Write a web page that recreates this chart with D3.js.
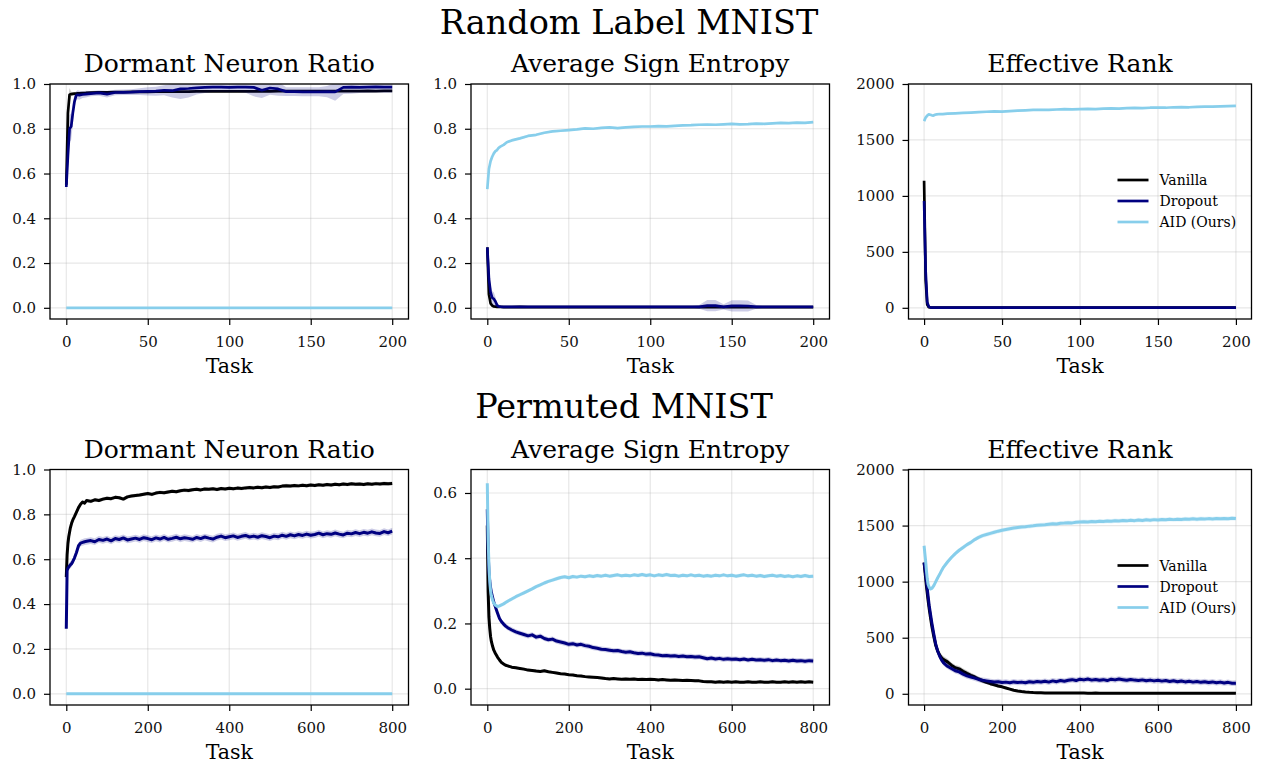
<!DOCTYPE html>
<html><head><meta charset="utf-8">
<script src="https://cdn.jsdelivr.net/npm/d3@7"></script>
<style>
html,body{margin:0;padding:0;background:#fff;}
svg{display:block;font-family:"DejaVu Serif",serif;}
</style></head><body>
<svg id="fig" width="1264" height="764"></svg>
<script>
// ---------------- Random Label MNIST (200 tasks) ----------------
const tasksRL = [
  0,1,2,3,4,5,6,7,8,10,
  12,15,20,25,30,35,40,45,50,55,
  60,65,70,75,80,85,90,95,100,105,
  110,115,120,125,130,135,140,145,150,155,
  160,165,170,175,180,185,190,195,200];

const rlDormantVanilla = [
  0.55,0.87,0.952,0.955,0.956,0.957,0.957,0.958,0.958,0.959,
  0.96,0.962,0.963,0.963,0.964,0.964,0.965,0.965,0.965,0.966,
  0.966,0.966,0.966,0.966,0.967,0.967,0.967,0.967,0.967,0.967,
  0.967,0.967,0.968,0.967,0.968,0.968,0.968,0.968,0.968,0.968,
  0.968,0.968,0.968,0.968,0.968,0.969,0.968,0.969,0.969];
const rlDormantVanillaSd = [
  0.02,0.06,0.03,0.01,0.008,0.006,0.005,0.005,0.005,0.005,
  0.004,0.004,0.004,0.004,0.004,0.004,0.004,0.004,0.004,0.004,
  0.004,0.004,0.004,0.004,0.004,0.004,0.004,0.004,0.004,0.004,
  0.004,0.004,0.004,0.004,0.004,0.004,0.004,0.004,0.004,0.004,
  0.004,0.004,0.004,0.004,0.004,0.004,0.004,0.004,0.004];
const rlDormantDropout = [
  0.54,0.68,0.80,0.81,0.87,0.92,0.948,0.952,0.95,0.953,
  0.955,0.957,0.96,0.955,0.962,0.963,0.964,0.966,0.967,0.968,
  0.972,0.97,0.978,0.98,0.983,0.985,0.986,0.986,0.985,0.986,
  0.986,0.985,0.972,0.982,0.978,0.966,0.966,0.965,0.965,0.965,
  0.966,0.965,0.985,0.986,0.985,0.986,0.987,0.986,0.986];
const rlDormantDropoutSd = [
  0.02,0.05,0.06,0.06,0.05,0.03,0.02,0.02,0.02,0.015,
  0.015,0.012,0.012,0.015,0.012,0.012,0.013,0.015,0.018,0.02,
  0.022,0.03,0.045,0.04,0.03,0.025,0.022,0.022,0.022,0.022,
  0.025,0.04,0.035,0.03,0.03,0.02,0.02,0.02,0.02,0.02,
  0.025,0.04,0.03,0.03,0.025,0.025,0.025,0.025,0.025];
const rlDormantAID = [
  0,0,0,0,0,0,0,0,0,0,
  0,0,0,0,0,0,0,0,0,0,
  0,0,0,0,0,0,0,0,0,0,
  0,0,0,0,0,0,0,0,0,0,
  0,0,0,0,0,0,0,0,0];
const rlDormantAIDSd = 0;

const rlEntropyVanilla = [
  0.27,0.06,0.02,0.01,0.006,0.005,0.004,0.004,0.004,0.003,
  0.003,0.003,0.004,0.003,0.003,0.003,0.003,0.003,0.003,0.003,
  0.003,0.003,0.003,0.003,0.003,0.003,0.003,0.003,0.003,0.003,
  0.003,0.003,0.003,0.003,0.003,0.003,0.003,0.003,0.003,0.003,
  0.003,0.003,0.003,0.003,0.003,0.003,0.003,0.003,0.003];
const rlEntropyVanillaSd = [
  0.01,0.02,0.012,0.006,0.004,0.003,0.002,0.002,0.002,0.002,
  0.002,0.002,0.002,0.002,0.002,0.002,0.002,0.002,0.002,0.002,
  0.002,0.002,0.002,0.002,0.002,0.002,0.002,0.002,0.002,0.002,
  0.002,0.002,0.002,0.002,0.002,0.002,0.002,0.002,0.002,0.002,
  0.002,0.002,0.002,0.002,0.002,0.002,0.002,0.002,0.002];
const rlEntropyDropout = [
  0.27,0.13,0.07,0.045,0.04,0.028,0.012,0.006,0.005,0.004,
  0.004,0.004,0.004,0.004,0.004,0.004,0.004,0.004,0.004,0.004,
  0.004,0.004,0.004,0.004,0.004,0.004,0.004,0.004,0.004,0.004,
  0.004,0.004,0.004,0.004,0.004,0.01,0.01,0.004,0.009,0.009,
  0.008,0.004,0.004,0.004,0.004,0.004,0.004,0.004,0.004];
const rlEntropyDropoutSd = [
  0.01,0.03,0.03,0.03,0.03,0.02,0.01,0.004,0.003,0.003,
  0.003,0.003,0.003,0.004,0.003,0.003,0.003,0.003,0.003,0.003,
  0.003,0.003,0.003,0.003,0.003,0.003,0.003,0.003,0.003,0.003,
  0.003,0.003,0.003,0.003,0.008,0.025,0.025,0.012,0.025,0.025,
  0.025,0.008,0.003,0.003,0.003,0.003,0.003,0.003,0.003];
const rlEntropyAID = [
  0.53,0.62,0.655,0.675,0.69,0.70,0.705,0.715,0.72,0.728,
  0.74,0.748,0.757,0.768,0.773,0.782,0.788,0.791,0.794,0.797,
  0.802,0.80,0.804,0.806,0.803,0.806,0.808,0.81,0.81,0.812,
  0.811,0.813,0.815,0.816,0.818,0.819,0.818,0.82,0.822,0.82,
  0.821,0.823,0.822,0.824,0.826,0.825,0.827,0.826,0.83];
const rlEntropyAIDSd = 0.005;

const rlRankVanilla = [
  1135,250,30,6,3,2,2,2,2,2,
  2,2,2,2,2,2,2,2,2,2,
  2,2,2,2,2,2,2,2,2,2,
  2,2,2,2,2,2,2,2,2,2,
  2,2,2,2,2,2,2,2,2];
const rlRankVanillaSd = [
  25,80,30,10,4,2,2,2,2,2,
  2,2,2,2,2,2,2,2,2,2,
  2,2,2,2,2,2,2,2,2,2,
  2,2,2,2,2,2,2,2,2,2,
  2,2,2,2,2,2,2,2,2];
const rlRankDropout = [
  955,330,50,12,4,2,2,2,2,2,
  2,2,2,2,2,2,2,2,2,2,
  2,2,2,2,2,2,2,2,2,2,
  2,2,2,2,2,2,2,2,2,2,
  2,2,2,2,2,2,2,2,2];
const rlRankDropoutSd = [
  30,60,30,10,3,2,2,2,2,2,
  2,2,2,2,2,2,2,2,2,2,
  2,2,2,2,2,2,2,2,2,2,
  2,2,2,2,2,2,2,2,2,2,
  2,2,2,2,2,2,2,2,2];
const rlRankAID = [
  1668,1700,1718,1728,1725,1720,1718,1725,1728,1732,
  1730,1735,1738,1742,1745,1748,1752,1755,1754,1758,
  1762,1765,1768,1770,1768,1772,1775,1774,1776,1778,
  1775,1780,1782,1780,1785,1786,1784,1788,1790,1788,
  1792,1794,1792,1796,1798,1797,1800,1802,1805];
const rlRankAIDSd = 8;

// ---------------- Permuted MNIST (800 tasks) ----------------
const tasksPM = [
  0,2,4,6,8,10,13,16,20,25,
  30,35,40,45,50,60,70,80,90,100,
  110,120,130,140,150,160,170,180,190,200,
  210,220,230,240,250,260,270,280,290,300,
  310,320,330,340,350,360,370,380,390,400,
  410,420,430,440,450,460,470,480,490,500,
  510,520,530,540,550,560,570,580,590,600,
  610,620,630,640,650,660,670,680,690,700,
  710,720,730,740,750,760,770,780,790,800];

const pmDormantVanilla = [
  0.52,0.62,0.67,0.70,0.72,0.74,0.76,0.775,0.79,0.81,
  0.83,0.845,0.855,0.85,0.862,0.858,0.865,0.862,0.868,0.872,
  0.87,0.876,0.874,0.868,0.878,0.882,0.884,0.886,0.89,0.893,
  0.889,0.895,0.898,0.896,0.9,0.903,0.901,0.905,0.908,0.906,
  0.91,0.912,0.909,0.913,0.912,0.914,0.911,0.915,0.913,0.916,
  0.914,0.917,0.915,0.918,0.92,0.918,0.921,0.919,0.922,0.92,
  0.923,0.922,0.926,0.928,0.926,0.929,0.927,0.93,0.928,0.931,
  0.929,0.932,0.93,0.933,0.931,0.934,0.932,0.935,0.933,0.936,
  0.934,0.935,0.933,0.936,0.934,0.937,0.935,0.938,0.936,0.938];
const pmDormantVanillaSd = 0.008;
const pmDormantDropout = [
  0.29,0.55,0.56,0.565,0.57,0.575,0.58,0.59,0.605,0.63,
  0.66,0.672,0.675,0.678,0.68,0.683,0.678,0.688,0.684,0.69,
  0.682,0.692,0.688,0.695,0.686,0.69,0.694,0.688,0.696,0.692,
  0.687,0.695,0.69,0.697,0.689,0.693,0.698,0.691,0.696,0.693,
  0.689,0.697,0.692,0.699,0.694,0.69,0.698,0.703,0.696,0.7,
  0.704,0.697,0.702,0.706,0.699,0.703,0.698,0.705,0.701,0.696,
  0.703,0.7,0.707,0.702,0.709,0.704,0.71,0.706,0.712,0.707,
  0.71,0.716,0.709,0.714,0.711,0.717,0.712,0.708,0.716,0.713,
  0.719,0.714,0.72,0.716,0.722,0.717,0.715,0.723,0.718,0.725];
const pmDormantDropoutSd = 0.015;
const pmDormantAID = [
  0,0,0,0,0,0,0,0,0,0,
  0,0,0,0,0,0,0,0,0,0,
  0,0,0,0,0,0,0,0,0,0,
  0,0,0,0,0,0,0,0,0,0,
  0,0,0,0,0,0,0,0,0,0,
  0,0,0,0,0,0,0,0,0,0,
  0,0,0,0,0,0,0,0,0,0,
  0,0,0,0,0,0,0,0,0,0,
  0,0,0,0,0,0,0,0,0,0];
const pmDormantAIDSd = 0;

const pmEntropyVanilla = [
  0.50,0.30,0.22,0.185,0.16,0.145,0.13,0.118,0.108,0.097,
  0.088,0.08,0.076,0.072,0.07,0.066,0.064,0.062,0.06,0.057,
  0.056,0.054,0.053,0.055,0.052,0.05,0.048,0.046,0.045,0.043,
  0.042,0.04,0.039,0.037,0.036,0.035,0.034,0.033,0.031,0.03,
  0.031,0.03,0.029,0.03,0.029,0.03,0.028,0.029,0.028,0.029,
  0.028,0.027,0.028,0.027,0.026,0.027,0.026,0.025,0.026,0.025,
  0.024,0.024,0.022,0.021,0.021,0.02,0.021,0.02,0.021,0.02,
  0.021,0.02,0.02,0.021,0.02,0.02,0.021,0.02,0.02,0.021,
  0.02,0.02,0.021,0.02,0.021,0.02,0.021,0.02,0.021,0.02];
const pmEntropyVanillaSd = 0.004;
const pmEntropyDropout = [
  0.55,0.42,0.36,0.33,0.31,0.295,0.28,0.265,0.25,0.232,
  0.215,0.205,0.198,0.192,0.187,0.18,0.174,0.17,0.166,0.162,
  0.165,0.158,0.161,0.154,0.15,0.152,0.146,0.143,0.14,0.136,
  0.138,0.134,0.136,0.132,0.13,0.126,0.124,0.121,0.12,0.118,
  0.116,0.117,0.114,0.112,0.113,0.11,0.108,0.109,0.106,0.107,
  0.104,0.103,0.101,0.102,0.1,0.101,0.099,0.1,0.098,0.099,
  0.097,0.098,0.095,0.092,0.094,0.091,0.093,0.09,0.092,0.09,
  0.091,0.089,0.091,0.088,0.09,0.088,0.089,0.087,0.089,0.086,
  0.088,0.086,0.087,0.085,0.087,0.085,0.086,0.084,0.086,0.085];
const pmEntropyDropoutSd = 0.008;
const pmEntropyAID = [
  0.63,0.46,0.38,0.33,0.30,0.285,0.272,0.262,0.256,0.252,
  0.254,0.257,0.26,0.264,0.268,0.275,0.282,0.288,0.294,0.30,
  0.306,0.313,0.318,0.324,0.329,0.333,0.337,0.341,0.343,0.34,
  0.344,0.342,0.345,0.343,0.346,0.344,0.347,0.345,0.348,0.345,
  0.347,0.349,0.346,0.348,0.346,0.349,0.347,0.35,0.347,0.349,
  0.346,0.349,0.347,0.35,0.347,0.348,0.345,0.348,0.346,0.349,
  0.346,0.348,0.345,0.347,0.345,0.348,0.346,0.349,0.346,0.348,
  0.345,0.347,0.349,0.346,0.348,0.345,0.347,0.344,0.346,0.348,
  0.345,0.347,0.344,0.346,0.343,0.346,0.344,0.347,0.344,0.345];
const pmEntropyAIDSd = 0.006;

const pmRankVanilla = [
  1170,1100,1030,960,900,840,760,690,600,510,
  430,380,345,320,305,285,255,232,222,200,
  182,165,150,132,116,102,90,80,70,62,
  52,42,32,25,20,16,13,11,10,9,
  8,8,7,7,7,6,6,6,6,6,
  6,5,5,6,5,5,5,5,5,5,
  5,5,5,5,5,5,5,4,5,5,
  5,4,5,5,4,5,5,4,5,4,
  5,4,4,5,4,5,4,4,5,4];
const pmRankVanillaSd = [
  40,40,40,40,40,40,35,35,30,30,
  30,30,30,30,30,28,25,25,25,25,
  25,22,22,20,20,18,16,15,14,12,
  10,10,8,7,6,5,5,4,4,4,
  3,3,3,3,3,3,3,3,3,3,
  3,3,3,3,3,3,3,3,3,3,
  3,3,3,3,3,3,3,3,3,3,
  3,3,3,3,3,3,3,3,3,3,
  3,3,3,3,3,3,3,3,3,3];
const pmRankDropout = [
  1170,1120,1060,1000,940,880,790,720,630,530,
  440,380,335,300,275,245,225,205,195,175,
  160,150,140,128,120,115,110,105,108,100,
  104,98,106,101,104,99,108,102,110,105,
  112,104,115,108,118,112,120,126,118,130,
  124,132,122,128,120,126,118,130,124,132,
  126,120,128,122,118,124,116,122,115,120,
  113,118,110,116,108,114,106,112,104,110,
  102,108,100,106,98,104,96,102,94,95];
const pmRankDropoutSd = 25;
const pmRankAID = [
  1320,1250,1180,1100,1030,980,950,935,940,965,
  1000,1035,1065,1100,1130,1175,1215,1250,1280,1305,
  1330,1350,1375,1395,1410,1420,1430,1440,1450,1458,
  1465,1472,1478,1483,1488,1490,1495,1498,1502,1505,
  1508,1512,1516,1514,1520,1522,1526,1524,1529,1532,
  1534,1531,1537,1534,1539,1536,1541,1538,1543,1540,
  1545,1542,1547,1544,1549,1546,1551,1548,1553,1550,
  1554,1551,1556,1553,1557,1554,1559,1556,1560,1557,
  1561,1558,1562,1559,1563,1560,1564,1561,1565,1562];
const pmRankAIDSd = 20;

// ---------------- labels and ticks ----------------
const methods = ["Vanilla", "Dropout", "AID (Ours)"];
const methodColors = ["#000000", "#000080", "#87CEEB"];
const suptitles = ["Random Label MNIST", "Permuted MNIST"];
const metricTitles = ["Dormant Neuron Ratio", "Average Sign Entropy", "Effective Rank"];
const xLabel = "Task";
const xTicksRL = [0, 50, 100, 150, 200];
const xTicksPM = [0, 200, 400, 600, 800];
const yTicksUnit = [0, 0.2, 0.4, 0.6, 0.8, 1.0];
const yTicksEntropyPM = [0, 0.2, 0.4, 0.6];
const yTicksRank = [0, 500, 1000, 1500, 2000];

// ---------------- layout ----------------
const colLeft = [50, 471, 908.5];
const colRight = [408.5, 829.5, 1251.5];
const rowTop = [84, 469.5];
const rowBottom = [319, 705];
const suptitleX = [629, 624];
const suptitleY = [34, 418];

const panels = [
  {row:0, col:0, tasks:tasksRL, xDomain:[-10,210], yDomain:[-0.05,1.0], xTicks:xTicksRL, yTicks:yTicksUnit, fmt:d3.format(".1f"),
   series:[[rlDormantVanilla, rlDormantVanillaSd],[rlDormantDropout, rlDormantDropoutSd],[rlDormantAID, rlDormantAIDSd]]},
  {row:0, col:1, tasks:tasksRL, xDomain:[-10,210], yDomain:[-0.05,1.0], xTicks:xTicksRL, yTicks:yTicksUnit, fmt:d3.format(".1f"),
   series:[[rlEntropyVanilla, rlEntropyVanillaSd],[rlEntropyDropout, rlEntropyDropoutSd],[rlEntropyAID, rlEntropyAIDSd]]},
  {row:0, col:2, tasks:tasksRL, xDomain:[-10,210], yDomain:[-100,2000], xTicks:xTicksRL, yTicks:yTicksRank, fmt:d3.format("d"), legend:true,
   series:[[rlRankVanilla, rlRankVanillaSd],[rlRankDropout, rlRankDropoutSd],[rlRankAID, rlRankAIDSd]]},
  {row:1, col:0, tasks:tasksPM, xDomain:[-40,840], yDomain:[-0.05,1.0], xTicks:xTicksPM, yTicks:yTicksUnit, fmt:d3.format(".1f"),
   series:[[pmDormantVanilla, pmDormantVanillaSd],[pmDormantDropout, pmDormantDropoutSd],[pmDormantAID, pmDormantAIDSd]]},
  {row:1, col:1, tasks:tasksPM, xDomain:[-40,840], yDomain:[-0.05,0.672], xTicks:xTicksPM, yTicks:yTicksEntropyPM, fmt:d3.format(".1f"),
   series:[[pmEntropyVanilla, pmEntropyVanillaSd],[pmEntropyDropout, pmEntropyDropoutSd],[pmEntropyAID, pmEntropyAIDSd]]},
  {row:1, col:2, tasks:tasksPM, xDomain:[-40,840], yDomain:[-100,2000], xTicks:xTicksPM, yTicks:yTicksRank, fmt:d3.format("d"), legend:true,
   series:[[pmRankVanilla, pmRankVanillaSd],[pmRankDropout, pmRankDropoutSd],[pmRankAID, pmRankAIDSd]]}
];

const svg = d3.select("#fig");
svg.append("rect").attr("width", 1264).attr("height", 764).attr("fill", "#fff");

suptitles.forEach((t, i) => {
  svg.append("text").attr("x", suptitleX[i]).attr("y", suptitleY[i])
    .attr("text-anchor", "middle").attr("font-size", 33.5).attr("fill", "#000").text(t);
});

const sdAt = (sd, i) => Array.isArray(sd) ? sd[i] : sd;

panels.forEach((p, pi) => {
  const x0 = colLeft[p.col], x1 = colRight[p.col];
  const y0 = rowTop[p.row], y1 = rowBottom[p.row];
  const w = x1 - x0, h = y1 - y0;
  const x = d3.scaleLinear().domain(p.xDomain).range([0, w]);
  const y = d3.scaleLinear().domain(p.yDomain).range([h, 0]);
  const g = svg.append("g").attr("transform", `translate(${x0},${y0})`);

  const clipId = "clip" + pi;
  g.append("clipPath").attr("id", clipId).append("rect").attr("width", w).attr("height", h);

  // grid
  const grid = g.append("g").attr("stroke", "#b0b0b0").attr("stroke-opacity", 0.3).attr("stroke-width", 1.2);
  p.xTicks.forEach(t => grid.append("line").attr("x1", x(t)).attr("x2", x(t)).attr("y1", 0).attr("y2", h));
  p.yTicks.forEach(t => grid.append("line").attr("y1", y(t)).attr("y2", y(t)).attr("x1", 0).attr("x2", w));

  // bands and lines
  const plot = g.append("g").attr("clip-path", `url(#${clipId})`);
  p.series.forEach(([vals, sd], si) => {
    const pts = p.tasks.map((t, i) => ({t, v: vals[i], s: sdAt(sd, i)}));
    const area = d3.area().x(d => x(d.t)).y0(d => y(d.v - d.s)).y1(d => y(d.v + d.s));
    const line = d3.line().x(d => x(d.t)).y(d => y(d.v));
    plot.append("path").attr("d", area(pts)).attr("fill", methodColors[si]).attr("fill-opacity", 0.2);
    plot.append("path").attr("d", line(pts)).attr("fill", "none").attr("stroke", methodColors[si])
      .attr("stroke-width", p.row === 1 ? 3 : 2.7).attr("stroke-linejoin", "round");
  });

  // axes
  const xAxis = d3.axisBottom(x).tickValues(p.xTicks).tickFormat(d3.format("d")).tickSize(6).tickPadding(11);
  const yAxis = d3.axisLeft(y).tickValues(p.yTicks).tickFormat(p.fmt).tickSize(6).tickPadding(8);
  const gx = g.append("g").attr("transform", `translate(0,${h})`).call(xAxis);
  const gy = g.append("g").call(yAxis);
  [gx, gy].forEach(a => {
    a.select(".domain").remove();
    a.selectAll(".tick line").attr("stroke", "#000").attr("stroke-width", 1.2);
    a.selectAll(".tick text").attr("font-family", "DejaVu Serif").attr("font-size", 15).attr("fill", "#111");
  });

  // spines
  g.append("rect").attr("width", w).attr("height", h).attr("fill", "none")
    .attr("stroke", "#000").attr("stroke-width", 1.3);

  // title and x label
  g.append("text").attr("x", w / 2).attr("y", -12).attr("text-anchor", "middle")
    .attr("font-size", 25).attr("fill", "#000").text(metricTitles[p.col]);
  g.append("text").attr("x", w / 2).attr("y", h + 54).attr("text-anchor", "middle")
    .attr("font-size", 20.5).attr("fill", "#000").text(xLabel);

  if (p.legend) {
    const lg = g.append("g").attr("transform", `translate(${w - 134},96)`);
    methods.forEach((m, i) => {
      const row = lg.append("g").attr("transform", `translate(0,${i * 21})`);
      row.append("line").attr("x1", 0).attr("x2", 31).attr("stroke", methodColors[i]).attr("stroke-width", 2.7);
      row.append("text").attr("x", 42).attr("y", 5).attr("font-size", 14).attr("fill", "#000").text(m);
    });
  }
});
</script>
</body></html>
